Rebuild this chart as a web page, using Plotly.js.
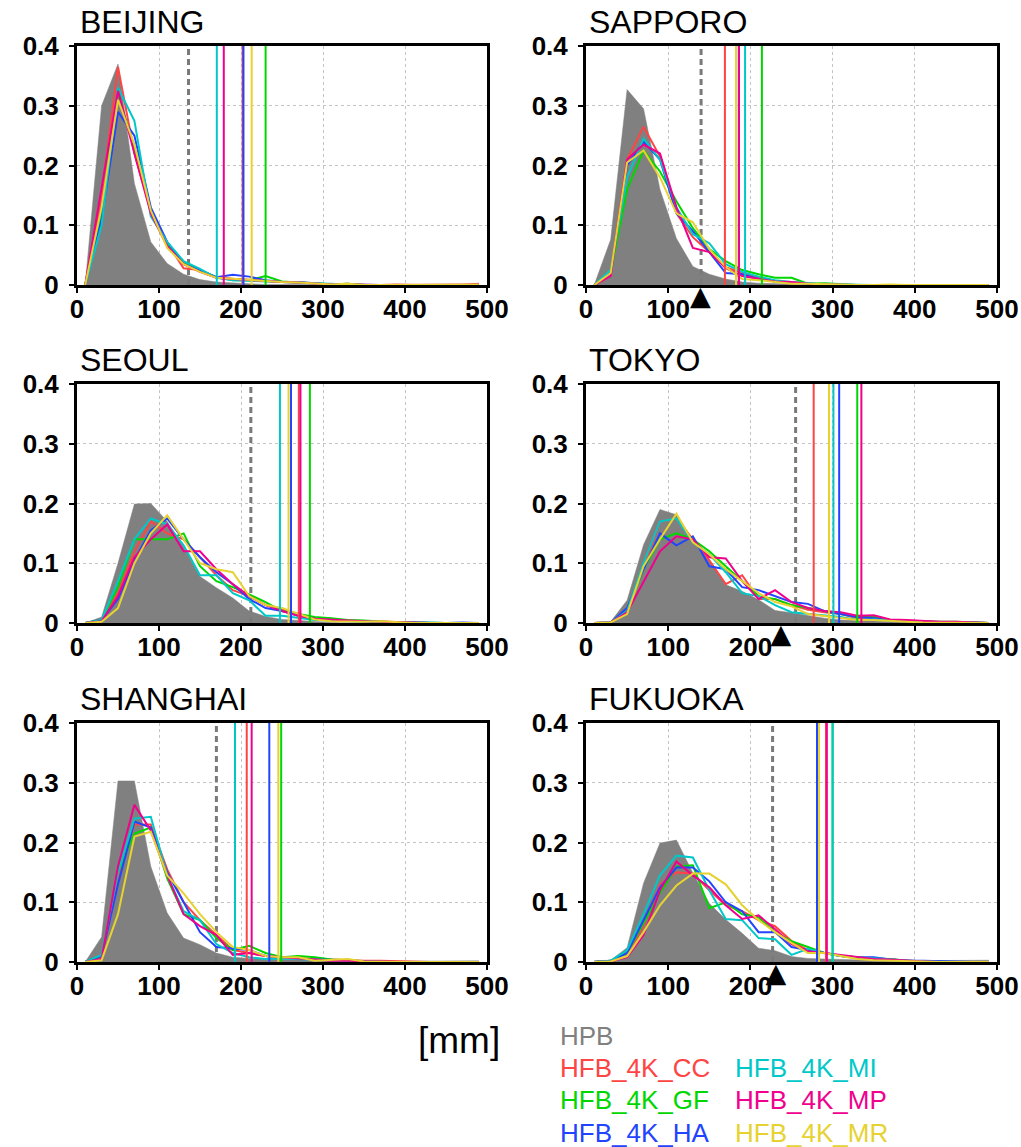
<!DOCTYPE html>
<html><head><meta charset="utf-8">
<script src="https://cdn.plot.ly/plotly-3.0.1.min.js"></script>
<style>body{margin:0;background:#fff}#chart{width:1021px;height:1147px}</style>
</head><body><div id="chart"></div>
<script>
// ---------- data ----------
const binCenters = [10,30,50,70,90,110,130,150,170,190,210,230,250,270,290,310,330,350,370,390,410,430,450,470,490];
const cities = ['BEIJING','SAPPORO','SEOUL','TOKYO','SHANGHAI','FUKUOKA'];
const modelNames = ['HFB_4K_CC','HFB_4K_GF','HFB_4K_HA','HFB_4K_MI','HFB_4K_MP','HFB_4K_MR'];
const xTicks = [0,100,200,300,400,500];
const yTicks = [0,0.1,0.2,0.3,0.4];

// BEIJING
const beijingHPB = [0,0.30,0.37,0.17,0.072,0.036,0.018,0.009,0.005,0.003,0.002,0.001,0.001,0,0,0,0,0,0,0,0,0,0,0,0];
const beijingCC  = [0,0.15,0.365,0.22,0.125,0.07,0.028,0.025,0.012,0.01,0.008,0.006,0.005,0.004,0.002,0.001,0.002,0,0,0.001,0,0,0,0,0.002];
const beijingGF  = [0,0.12,0.32,0.23,0.125,0.07,0.037,0.025,0.013,0.008,0.008,0.015,0.006,0.004,0.003,0.001,0.002,0,0,0,0.001,0,0,0,0];
const beijingHA  = [0,0.11,0.29,0.25,0.13,0.072,0.035,0.025,0.013,0.017,0.014,0.008,0.005,0.005,0.003,0.001,0.001,0,0,0,0,0,0,0,0];
const beijingMI  = [0,0.10,0.33,0.275,0.115,0.072,0.04,0.027,0.012,0.008,0.007,0.006,0.005,0.004,0.002,0.001,0.001,0,0,0,0,0,0,0,0];
const beijingMP  = [0,0.16,0.325,0.22,0.12,0.065,0.035,0.022,0.012,0.01,0.008,0.006,0.005,0.004,0.002,0.001,0.001,0,0,0,0,0,0,0,0.001];
const beijingMR  = [0,0.13,0.31,0.235,0.125,0.062,0.035,0.022,0.012,0.01,0.008,0.007,0.005,0.004,0.003,0.001,0.002,0,0,0,0,0,0,0,0.001];

// SAPPORO
const sapporoHPB = [0,0.076,0.327,0.295,0.16,0.078,0.031,0.018,0.01,0.005,0.003,0.002,0.001,0,0,0,0,0,0,0,0,0,0,0,0];
const sapporoCC  = [0,0.02,0.21,0.265,0.215,0.12,0.08,0.055,0.03,0.02,0.012,0.006,0.004,0.002,0.001,0,0,0,0,0,0,0,0,0,0];
const sapporoGF  = [0,0.02,0.16,0.225,0.19,0.14,0.095,0.06,0.04,0.025,0.018,0.012,0.012,0.002,0.003,0.001,0,0,0,0,0,0,0,0,0];
const sapporoHA  = [0,0.02,0.20,0.24,0.21,0.12,0.09,0.055,0.02,0.018,0.01,0.006,0.004,0.002,0.001,0,0,0,0,0,0,0,0,0,0];
const sapporoMI  = [0,0.025,0.18,0.245,0.21,0.13,0.085,0.07,0.035,0.022,0.014,0.008,0.005,0.003,0.001,0.001,0,0,0,0,0,0,0,0,0];
const sapporoMP  = [0,0.015,0.21,0.235,0.22,0.13,0.062,0.055,0.028,0.015,0.01,0.006,0.005,0.002,0.001,0,0,0,0,0,0,0,0,0,0];
const sapporoMR  = [0,0.02,0.205,0.225,0.18,0.12,0.105,0.06,0.03,0.01,0.008,0.005,0.002,0.002,0.001,0,0,0,0.001,0,0,0,0,0,0];

// SEOUL
const seoulHPB = [0,0.01,0.10,0.199,0.20,0.17,0.128,0.078,0.059,0.042,0.02,0.011,0.006,0.004,0.002,0.001,0,0,0,0,0,0,0,0,0];
const seoulCC  = [0,0.005,0.05,0.12,0.17,0.15,0.14,0.11,0.08,0.055,0.045,0.03,0.022,0.015,0.008,0.005,0.004,0.003,0.002,0.001,0,0,0,0,0];
const seoulGF  = [0,0.005,0.06,0.14,0.14,0.14,0.15,0.095,0.07,0.06,0.048,0.035,0.02,0.015,0.01,0.008,0.005,0.004,0.002,0.001,0.001,0,0,0,0];
const seoulHA  = [0,0.005,0.04,0.105,0.155,0.175,0.14,0.11,0.085,0.065,0.04,0.025,0.02,0.012,0.007,0.004,0.003,0.002,0.002,0.001,0.001,0,0,0.001,0];
const seoulMI  = [0,0.005,0.07,0.14,0.175,0.165,0.13,0.08,0.08,0.05,0.038,0.012,0.012,0.008,0.005,0.004,0.003,0.002,0.001,0.001,0.001,0,0,0,0];
const seoulMP  = [0,0.003,0.045,0.11,0.14,0.165,0.12,0.12,0.09,0.065,0.045,0.03,0.02,0.012,0.007,0.005,0.004,0.003,0.002,0.001,0,0,0,0,0];
const seoulMR  = [0,0.002,0.025,0.10,0.15,0.18,0.14,0.10,0.09,0.085,0.045,0.03,0.025,0.015,0.006,0.003,0.002,0.002,0.003,0.001,0,0,0,0,0];

// TOKYO
const tokyoHPB = [0,0.002,0.038,0.131,0.19,0.181,0.14,0.106,0.064,0.053,0.039,0.021,0.017,0.012,0.008,0.005,0.004,0.003,0.002,0.001,0.001,0.001,0,0,0];
const tokyoCC  = [0,0.001,0.02,0.09,0.17,0.175,0.14,0.105,0.065,0.08,0.04,0.04,0.03,0.022,0.018,0.015,0.008,0.01,0.005,0.004,0.002,0.002,0.001,0.001,0];
const tokyoGF  = [0,0.001,0.02,0.09,0.14,0.15,0.14,0.12,0.095,0.07,0.045,0.04,0.03,0.025,0.02,0.015,0.01,0.01,0.005,0.003,0.002,0.002,0.002,0.001,0];
const tokyoHA  = [0,0.001,0.025,0.09,0.15,0.13,0.145,0.095,0.09,0.06,0.055,0.045,0.035,0.032,0.02,0.015,0.01,0.008,0.004,0.003,0.002,0.002,0.001,0.001,0];
const tokyoMI  = [0,0.001,0.02,0.10,0.17,0.175,0.135,0.115,0.085,0.05,0.045,0.03,0.018,0.015,0.012,0.01,0.005,0.006,0.004,0.003,0.002,0.001,0.001,0.001,0];
const tokyoMP  = [0,0.001,0.018,0.07,0.12,0.145,0.14,0.11,0.108,0.07,0.04,0.055,0.035,0.025,0.02,0.018,0.012,0.013,0.006,0.005,0.003,0.002,0.002,0.001,0];
const tokyoMR  = [0,0.001,0.015,0.095,0.14,0.183,0.135,0.115,0.09,0.07,0.05,0.035,0.028,0.015,0.012,0.008,0.005,0.005,0.003,0.002,0.001,0.001,0.001,0,0];

// SHANGHAI
const shanghaiHPB = [0,0.042,0.303,0.303,0.16,0.082,0.04,0.029,0.015,0.008,0.006,0.005,0.004,0.003,0.002,0.001,0.001,0.001,0.001,0.002,0.002,0.002,0.002,0.002,0.002];
const shanghaiCC  = [0,0.008,0.14,0.23,0.23,0.155,0.10,0.07,0.045,0.02,0.015,0.01,0.007,0.006,0.005,0.003,0.003,0.002,0.002,0.001,0,0,0,0,0];
const shanghaiGF  = [0,0.01,0.15,0.215,0.225,0.14,0.08,0.07,0.04,0.02,0.027,0.015,0.008,0.01,0.008,0.004,0.003,0.001,0,0,0,0,0,0,0];
const shanghaiHA  = [0,0.01,0.13,0.235,0.225,0.15,0.10,0.05,0.025,0.022,0.02,0.01,0.007,0.005,0.004,0.004,0.003,0.001,0,0,0,0,0,0,0];
const shanghaiMI  = [0,0.012,0.15,0.24,0.243,0.145,0.085,0.07,0.03,0.015,0.008,0.005,0.006,0.005,0.003,0.002,0.002,0.001,0,0,0,0,0,0,0];
const shanghaiMP  = [0,0.005,0.16,0.263,0.22,0.145,0.08,0.06,0.045,0.012,0.015,0.01,0.008,0.006,0.004,0.002,0.002,0.001,0.001,0,0,0,0,0,0];
const shanghaiMR  = [0,0.003,0.08,0.21,0.218,0.145,0.115,0.08,0.05,0.025,0.02,0.01,0.008,0.008,0.002,0.003,0.005,0.001,0,0,0,0,0,0,0];

// FUKUOKA
const fukuokaHPB = [0.002,0.003,0.024,0.132,0.199,0.204,0.149,0.098,0.071,0.048,0.023,0.019,0.009,0.006,0.005,0.004,0.004,0.003,0.002,0.002,0.002,0.002,0.002,0.003,0.003];
const fukuokaCC  = [0,0.001,0.01,0.06,0.13,0.15,0.148,0.12,0.095,0.085,0.07,0.06,0.035,0.02,0.015,0.01,0.008,0.005,0.004,0.002,0.001,0,0,0,0];
const fukuokaGF  = [0,0.002,0.015,0.065,0.115,0.16,0.162,0.09,0.10,0.08,0.075,0.05,0.035,0.025,0.015,0.01,0.007,0.006,0.005,0.002,0.001,0,0,0,0];
const fukuokaHA  = [0,0.002,0.015,0.07,0.125,0.158,0.158,0.135,0.10,0.085,0.05,0.05,0.025,0.02,0.015,0.01,0.008,0.008,0.004,0.002,0.002,0.001,0,0,0];
const fukuokaMI  = [0,0.002,0.02,0.08,0.145,0.178,0.175,0.12,0.072,0.07,0.04,0.038,0.012,0.022,0.015,0.01,0.008,0.006,0.004,0.002,0.001,0,0,0,0];
const fukuokaMP  = [0,0.001,0.008,0.045,0.12,0.168,0.145,0.125,0.095,0.072,0.078,0.055,0.03,0.018,0.015,0.012,0.008,0.005,0.004,0.002,0.001,0,0,0,0];
const fukuokaMR  = [0,0.001,0.01,0.05,0.095,0.128,0.148,0.148,0.13,0.095,0.07,0.05,0.032,0.015,0.015,0.01,0.005,0.003,0.002,0.001,0,0,0,0,0];

// 99th percentile markers per city (order of cities)
const p99HPB = [136, 140, 212, 255, 170, 227];
const p99CC  = [202, 169, 270.5, 277, 207, 292];
const p99GF  = [230, 214, 284, 330, 249, 300];
const p99HA  = [203, 186, 261, 308, 234.5, 281];
const p99MI  = [170.5, 193.5, 247.5, 301, 192.7, 300];
const p99MP  = [179, 186, 272.5, 335, 213, 293];
const p99MR  = [213, 182.5, 258, 295.6, 245.5, 283.5];
// black triangle marker positions (null = none)
const triangleX = [null, 139, null, 237, null, 231];

// ---------- styles ----------
const hpbColor = '#808080';
const modelColors = ['#ff4444','#00d600','#2244ff','#00c8c8','#f0008c','#e6d230'];

const W = 1021, H = 1147;
const colPx = [[77,487],[586,997]];
const rowPx = [[46,285],[384,623],[723,962]];

const cityData = [
  [beijingHPB, [beijingCC,beijingGF,beijingHA,beijingMI,beijingMP,beijingMR]],
  [sapporoHPB, [sapporoCC,sapporoGF,sapporoHA,sapporoMI,sapporoMP,sapporoMR]],
  [seoulHPB,   [seoulCC,seoulGF,seoulHA,seoulMI,seoulMP,seoulMR]],
  [tokyoHPB,   [tokyoCC,tokyoGF,tokyoHA,tokyoMI,tokyoMP,tokyoMR]],
  [shanghaiHPB,[shanghaiCC,shanghaiGF,shanghaiHA,shanghaiMI,shanghaiMP,shanghaiMR]],
  [fukuokaHPB, [fukuokaCC,fukuokaGF,fukuokaHA,fukuokaMI,fukuokaMP,fukuokaMR]]
];
const p99Models = [p99CC,p99GF,p99HA,p99MI,p99MP,p99MR];

const traces = [];
const triTraces = [];
const layout = {
  width: W, height: H,
  margin: {l:0,r:0,t:0,b:0},
  paper_bgcolor: '#fff', plot_bgcolor: 'rgba(0,0,0,0)',
  showlegend: false,
  annotations: [],
  font: {family: 'Liberation Sans, Arial, sans-serif', color: '#000'}
};

const tickFont = {family: 'Liberation Sans, Arial, sans-serif', size: 26, color: '#000', weight: 'bold'};

cities.forEach((city, i) => {
  const sfx = i === 0 ? '' : String(i + 1);
  const xa = 'x' + sfx, ya = 'y' + sfx;
  const col = i % 2, row = Math.floor(i / 2);
  const [x0, x1] = colPx[col];
  const [y0, y1] = rowPx[row];
  layout['xaxis' + sfx] = {
    domain: [x0 / W, x1 / W], anchor: ya, range: [0, 500],
    tickvals: xTicks, ticks: 'outside', ticklen: 5, tickwidth: 2, tickcolor: '#000',
    showline: true, linewidth: 3, linecolor: '#000', mirror: true,
    showgrid: true, gridcolor: '#c4c4c4', griddash: 'dot', gridwidth: 1,
    zeroline: false, tickfont: tickFont, ticklabelstandoff: -6, fixedrange: true
  };
  layout['yaxis' + sfx] = {
    domain: [1 - y1 / H, 1 - y0 / H], anchor: xa, range: [0, 0.4],
    tickvals: yTicks, ticktext: yTicks.map(v => v === 0 ? '0' : v.toFixed(1)),
    ticks: 'outside', ticklen: 5, tickwidth: 2, tickcolor: '#000',
    showline: true, linewidth: 3, linecolor: '#000', mirror: true,
    showgrid: true, gridcolor: '#c4c4c4', griddash: 'dot', gridwidth: 1,
    zeroline: false, tickfont: tickFont, ticklabelstandoff: 5, fixedrange: true
  };
  const [hpb, mods] = cityData[i];
  // gray HPB fill
  traces.push({type:'scatter', mode:'lines', x: binCenters, y: hpb, xaxis: xa, yaxis: ya,
    fill: 'tozeroy', fillcolor: hpbColor, line: {color: hpbColor, width: 0.5}, hoverinfo: 'skip'});
  // HPB 99th percentile (dashed)
  traces.push({type:'scatter', mode:'lines', x: [p99HPB[i], p99HPB[i]], y: [0, 0.4], xaxis: xa, yaxis: ya,
    line: {color: '#7a7a7a', width: 3, dash: '6px,4px'}, hoverinfo: 'skip'});
  // model curves
  mods.forEach((arr, m) => {
    traces.push({type:'scatter', mode:'lines', x: binCenters, y: arr, xaxis: xa, yaxis: ya,
      line: {color: modelColors[m], width: 2}, name: modelNames[m], hoverinfo: 'skip'});
  });
  // model 99th percentile vertical lines
  p99Models.forEach((arr, m) => {
    traces.push({type:'scatter', mode:'lines', x: [arr[i], arr[i]], y: [0, 0.4], xaxis: xa, yaxis: ya,
      line: {color: modelColors[m], width: 2}, hoverinfo: 'skip'});
  });
  // triangle marker (text glyph placed just below the x axis)
  if (triangleX[i] !== null) {
    triTraces.push({type:'scatter', mode:'text', x: [triangleX[i]], y: [0], xaxis: xa, yaxis: ya,
      text: ['▲'], textposition: 'bottom center', cliponaxis: false,
      textfont: {family: 'DejaVu Sans', size: 27, color: '#000'}, hoverinfo: 'skip'});
  }
  // city title
  layout.annotations.push({
    text: city, xref: 'paper', yref: 'paper', x: (x0 + 1) / W, y: 1 - (y0 - 24) / H,
    xanchor: 'left', yanchor: 'middle', showarrow: false,
    font: {size: 32, color: '#000', family: 'Liberation Sans, Arial, sans-serif'}
  });
});

// unit label
layout.annotations.push({text: '[mm]', xref: 'paper', yref: 'paper', x: 416 / W, y: 1 - 1040 / H,
  xanchor: 'left', yanchor: 'middle', showarrow: false, font: {size: 37, color: '#000'}});
// legend texts
const legendItems = [
  ['HPB', hpbColor, 558, 1036],
  [modelNames[0], modelColors[0], 558, 1068],
  [modelNames[1], modelColors[1], 558, 1100],
  [modelNames[2], modelColors[2], 558, 1133],
  [modelNames[3], modelColors[3], 733, 1068],
  [modelNames[4], modelColors[4], 733, 1100],
  [modelNames[5], modelColors[5], 733, 1133]
];
legendItems.forEach(([t, c, px, py]) => {
  layout.annotations.push({text: t, xref: 'paper', yref: 'paper', x: px / W, y: 1 - py / H,
    xanchor: 'left', yanchor: 'middle', showarrow: false, font: {size: 26, color: c}});
});

Plotly.newPlot('chart', traces.concat(triTraces), layout, {staticPlot: true});
</script>
</body></html>
